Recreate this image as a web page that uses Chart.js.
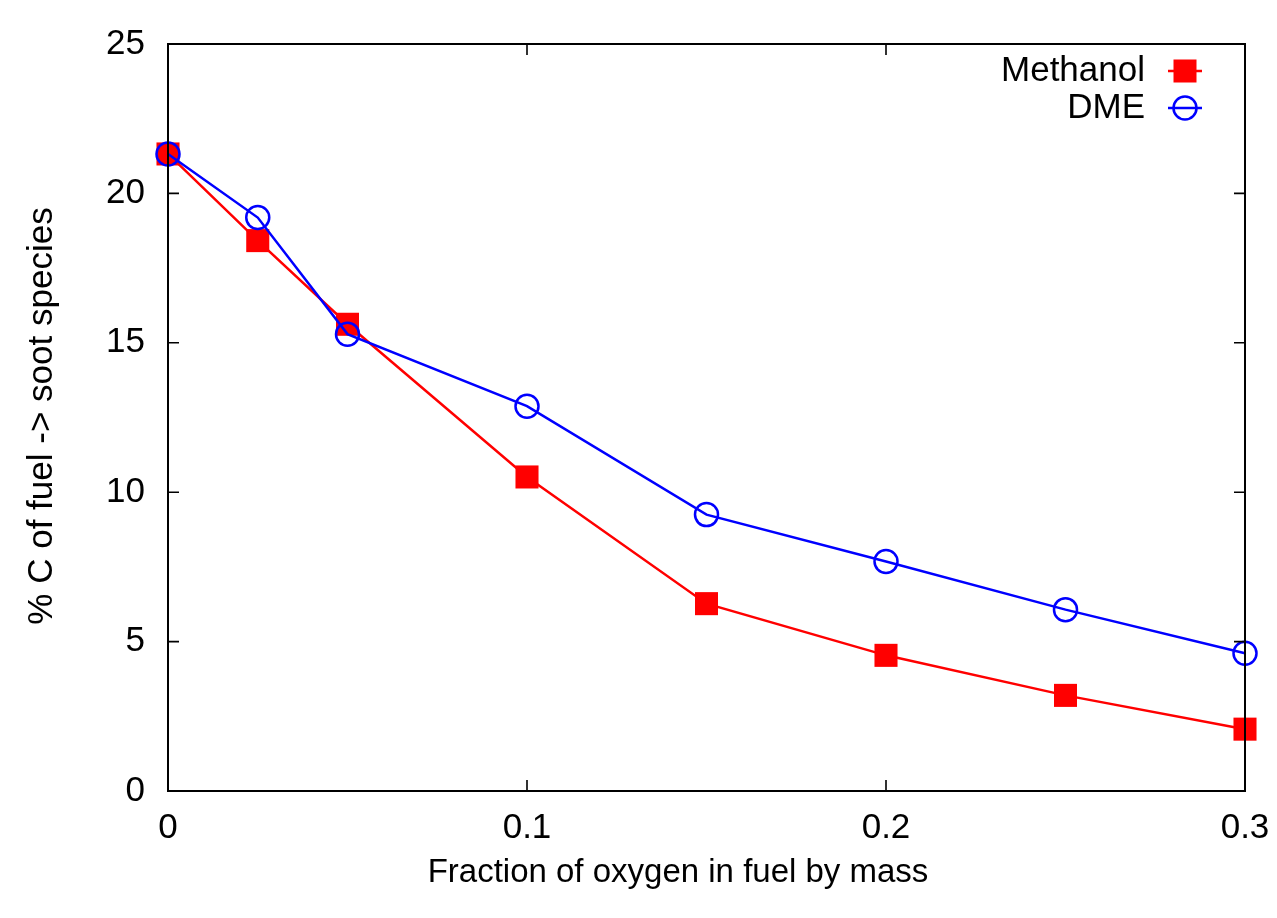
<!DOCTYPE html>
<html>
<head>
<meta charset="utf-8">
<script src="https://cdn.jsdelivr.net/npm/chart.js@4/dist/chart.umd.min.js"></script>
<style>
  html, body { margin: 0; padding: 0; background: #fff; }
  canvas { display: block; }
</style>
</head>
<body>
<canvas id="sootChart" width="1277" height="918"></canvas>
<script>
// values
const oxygenFraction = [0, 0.025, 0.05, 0.1, 0.15, 0.2, 0.25, 0.3];
const methanol = [21.32, 18.42, 15.62, 10.51, 6.27, 4.54, 3.20, 2.07];
const dme = [21.32, 19.19, 15.29, 12.88, 9.25, 7.68, 6.07, 4.61];
const xTickLabels = ['0', '0.1', '0.2', '0.3'];
const yTickLabels = ['0', '5', '10', '15', '20', '25'];

const FONT = '"Liberation Sans", Arial, Helvetica, sans-serif';
const fontSize = 35;

function toPoints(xs, ys) {
  return xs.map((x, i) => ({ x: x, y: ys[i] }));
}

// gnuplot style frame with inward ticks, drawn above the data
const framePlugin = {
  id: 'frame',
  afterDatasetsDraw(chart) {
    const { ctx, chartArea: a, scales } = chart;
    ctx.save();
    ctx.strokeStyle = '#000';
    ctx.lineWidth = 2;
    ctx.strokeRect(a.left, a.top, a.right - a.left, a.bottom - a.top);
    ctx.lineWidth = 1.6;
    const len = 11;
    ctx.beginPath();
    scales.y.ticks.forEach(t => {
      const py = scales.y.getPixelForValue(t.value);
      ctx.moveTo(a.left, py); ctx.lineTo(a.left + len, py);
      ctx.moveTo(a.right, py); ctx.lineTo(a.right - len, py);
    });
    scales.x.ticks.forEach(t => {
      const px = scales.x.getPixelForValue(t.value);
      ctx.moveTo(px, a.bottom); ctx.lineTo(px, a.bottom - len);
      ctx.moveTo(px, a.top); ctx.lineTo(px, a.top + len);
    });
    ctx.stroke();
    ctx.restore();
  }
};

// legend in the top right corner: text first, then line sample with marker
const keyPlugin = {
  id: 'key',
  afterDatasetsDraw(chart) {
    const { ctx } = chart;
    const textRight = 1145;
    const x0 = 1168, x1 = 1202, mx = 1185;
    const rows = [71, 108];
    ctx.save();
    ctx.font = fontSize + 'px ' + FONT;
    ctx.textAlign = 'right';
    ctx.textBaseline = 'middle';
    chart.data.datasets.forEach((ds, i) => {
      const y = rows[i];
      ctx.fillStyle = '#000';
      ctx.fillText(ds.label, textRight, y);
      ctx.strokeStyle = ds.borderColor;
      ctx.lineWidth = ds.borderWidth;
      ctx.beginPath();
      ctx.moveTo(x0, y); ctx.lineTo(x1, y);
      ctx.stroke();
      if (ds.pointStyle === 'rect') {
        ctx.fillStyle = ds.pointBackgroundColor;
        ctx.fillRect(mx - 11.5, y - 11.5, 23, 23);
      } else {
        ctx.lineWidth = ds.pointBorderWidth;
        ctx.beginPath();
        ctx.arc(mx, y, ds.pointRadius, 0, Math.PI * 2);
        ctx.stroke();
      }
    });
    ctx.restore();
  }
};

// axis titles placed where the reference has them
const titlePlugin = {
  id: 'axisTitles',
  afterDraw(chart) {
    const { ctx } = chart;
    ctx.save();
    ctx.fillStyle = '#000';
    ctx.textAlign = 'center';
    ctx.textBaseline = 'middle';
    ctx.font = '33px ' + FONT;
    ctx.fillText('Fraction of oxygen in fuel by mass', 678, 873);
    ctx.font = fontSize + 'px ' + FONT;
    ctx.translate(42, 416);
    ctx.rotate(-Math.PI / 2);
    ctx.fillText('% C of fuel -> soot species', 0, 0);
    ctx.restore();
  }
};

const ctx = document.getElementById('sootChart').getContext('2d');
new Chart(ctx, {
  type: 'line',
  data: {
    datasets: [
      {
        label: 'Methanol',
        data: toPoints(oxygenFraction, methanol),
        borderColor: '#ff0000',
        backgroundColor: '#ff0000',
        borderWidth: 2.5,
        pointStyle: 'rect',
        pointRadius: 16.3,
        pointBackgroundColor: '#ff0000',
        pointBorderWidth: 0,
        pointHoverRadius: 16.3,
        tension: 0,
        clip: false,
        order: 2
      },
      {
        label: 'DME',
        data: toPoints(oxygenFraction, dme),
        borderColor: '#0000ff',
        backgroundColor: '#0000ff',
        borderWidth: 2.5,
        pointStyle: 'circle',
        pointRadius: 11.5,
        pointBackgroundColor: 'rgba(0,0,0,0)',
        pointBorderColor: '#0000ff',
        pointBorderWidth: 2.5,
        pointHoverRadius: 11.5,
        tension: 0,
        clip: false,
        order: 1
      }
    ]
  },
  options: {
    responsive: false,
    animation: false,
    devicePixelRatio: 1,
    layout: { padding: { left: 0, top: 42, right: 32, bottom: 0 } },
    plugins: {
      legend: { display: false },
      tooltip: { enabled: false }
    },
    scales: {
      x: {
        type: 'linear',
        min: 0,
        max: 0.3,
        grid: { display: false, drawTicks: true, tickLength: 11 },
        border: { display: false },
        afterFit(scale) { scale.height = 127; },
        afterBuildTicks(scale) {
          scale.ticks = xTickLabels.map(t => ({ value: parseFloat(t) }));
        },
        ticks: {
          padding: 5,
          color: '#000',
          font: { family: FONT, size: fontSize },
          maxRotation: 0,
          callback: (v, i) => xTickLabels[i]
        }
      },
      y: {
        type: 'linear',
        min: 0,
        max: 25,
        grid: { display: false, drawTicks: false },
        border: { display: false },
        afterFit(scale) { scale.width = 168; },
        afterBuildTicks(scale) {
          scale.ticks = yTickLabels.map(t => ({ value: parseFloat(t) }));
        },
        ticks: {
          padding: 23,
          color: '#000',
          font: { family: FONT, size: fontSize },
          callback: (v, i) => yTickLabels[i]
        }
      }
    }
  },
  plugins: [framePlugin, keyPlugin, titlePlugin]
});
</script>
</body>
</html>
